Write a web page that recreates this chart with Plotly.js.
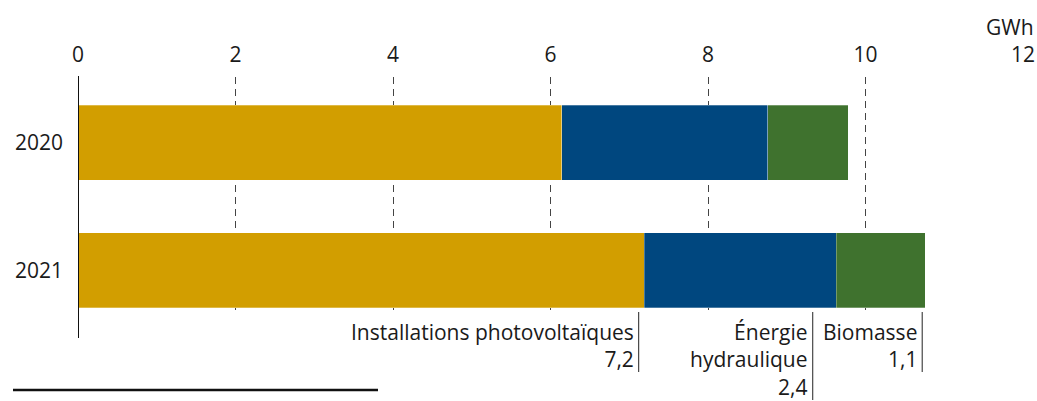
<!DOCTYPE html>
<html>
<head>
<meta charset="utf-8">
<script src="https://cdn.plot.ly/plotly-3.0.1.min.js"></script>
<style>
  html, body { margin: 0; padding: 0; background: #fff; }
  #chart { width: 1037px; height: 401px; }
</style>
</head>
<body>
<div id="chart"></div>
<script>
// ---- data ----
const years = ['2020', '2021'];
const photovoltaique = [6.14, 7.19];
const hydraulique = [2.62, 2.44];
const biomasse = [1.02, 1.13];
const totals = [9.8, 10.7];
const seriesNames = ['Installations photovoltaïques', 'Énergie<br>hydraulique', 'Biomasse'];
const seriesLabels2021 = ['7,2', '2,4', '1,1'];
const xTicks = [0, 2, 4, 6, 8, 10, 12];
const unitLabel = 'GWh';

const fmt = v => v.toFixed(1).replace('.', ',');

const colors = ['#D29E00', '#00477F', '#3F722E'];
const font = { family: 'Open Sans, Noto Sans, sans-serif', size: 21, color: '#1a1a1a' };

const mk = (name, vals, color) => ({
  type: 'bar', orientation: 'h', name: name,
  y: years, x: vals, width: 0.586,
  marker: { color: color, line: { width: 0.8, color: 'rgba(255,255,255,0.35)' } },
  hoverinfo: 'skip'
});

const data = [
  mk(seriesNames[0], photovoltaique, colors[0]),
  mk(seriesNames[1], hydraulique, colors[1]),
  mk(seriesNames[2], biomasse, colors[2])
];

// paper helpers (plot area: top 77px, bottom 310px, height 233)
const H = 233, B = 310;
const py = p => (B - p) / H;

const annotations = [];
// totals
years.forEach((yr, i) => {
  annotations.push({
    xref: 'x', yref: 'y', x: photovoltaique[i] + hydraulique[i] + biomasse[i], y: yr,
    text: '<b>' + fmt(totals[i]) + '</b>', showarrow: false,
    xanchor: 'left', xshift: 10, font: font
  });
});
// unit
annotations.push({
  xref: 'paper', yref: 'paper', x: 1, y: py(27), text: unitLabel, showarrow: false,
  xanchor: 'right', yanchor: 'middle', xshift: 13, font: font
});
// segment labels below 2021 bar
const labelLineX = [7.12, 9.33, 10.72];
const labelLineBottom = [372, 400, 372];
const shapes = [];
seriesNames.forEach((n, i) => {
  annotations.push({
    xref: 'x', yref: 'paper', x: labelLineX[i], y: py(316),
    text: n + '<br>' + seriesLabels2021[i], showarrow: false,
    xanchor: 'right', yanchor: 'top', align: 'right', xshift: -3, font: font
  });
  shapes.push({
    type: 'line', xref: 'x', yref: 'paper', x0: labelLineX[i], x1: labelLineX[i],
    y0: py(312), y1: py(labelLineBottom[i]), line: { color: '#222', width: 1 }
  });
});
// zero axis line
shapes.push({
  type: 'line', xref: 'x', yref: 'paper', x0: 0, x1: 0, y0: py(338), y1: py(76),
  line: { color: '#111', width: 2 }
});
// footnote separator
shapes.push({
  type: 'line', xref: 'paper', yref: 'paper', x0: (13 - 78) / 945, x1: (378 - 78) / 945,
  y0: py(390), y1: py(390), line: { color: '#111', width: 2.5 }
});

const layout = {
  width: 1037, height: 401,
  margin: { l: 78, r: 14, t: 77, b: 401 - 310, pad: 0 },
  paper_bgcolor: '#fff', plot_bgcolor: '#fff',
  barmode: 'stack', showlegend: false,
  font: font,
  xaxis: {
    side: 'top', range: [0, 12], tickvals: xTicks, ticktext: xTicks.map(String),
    showgrid: true, gridcolor: '#444', gridwidth: 1, griddash: '7px,5px',
    zeroline: false, showline: false, ticks: '', ticklabelstandoff: 10,
    tickfont: font, fixedrange: true
  },
  yaxis: {
    type: 'category', range: [1.309, -0.512], showgrid: false, zeroline: false,
    showline: false, ticks: '', ticklabelstandoff: 14, tickfont: font, fixedrange: true
  },
  annotations: annotations,
  shapes: shapes
};

Plotly.newPlot('chart', data, layout, { staticPlot: true, displayModeBar: false });
</script>
</body>
</html>
